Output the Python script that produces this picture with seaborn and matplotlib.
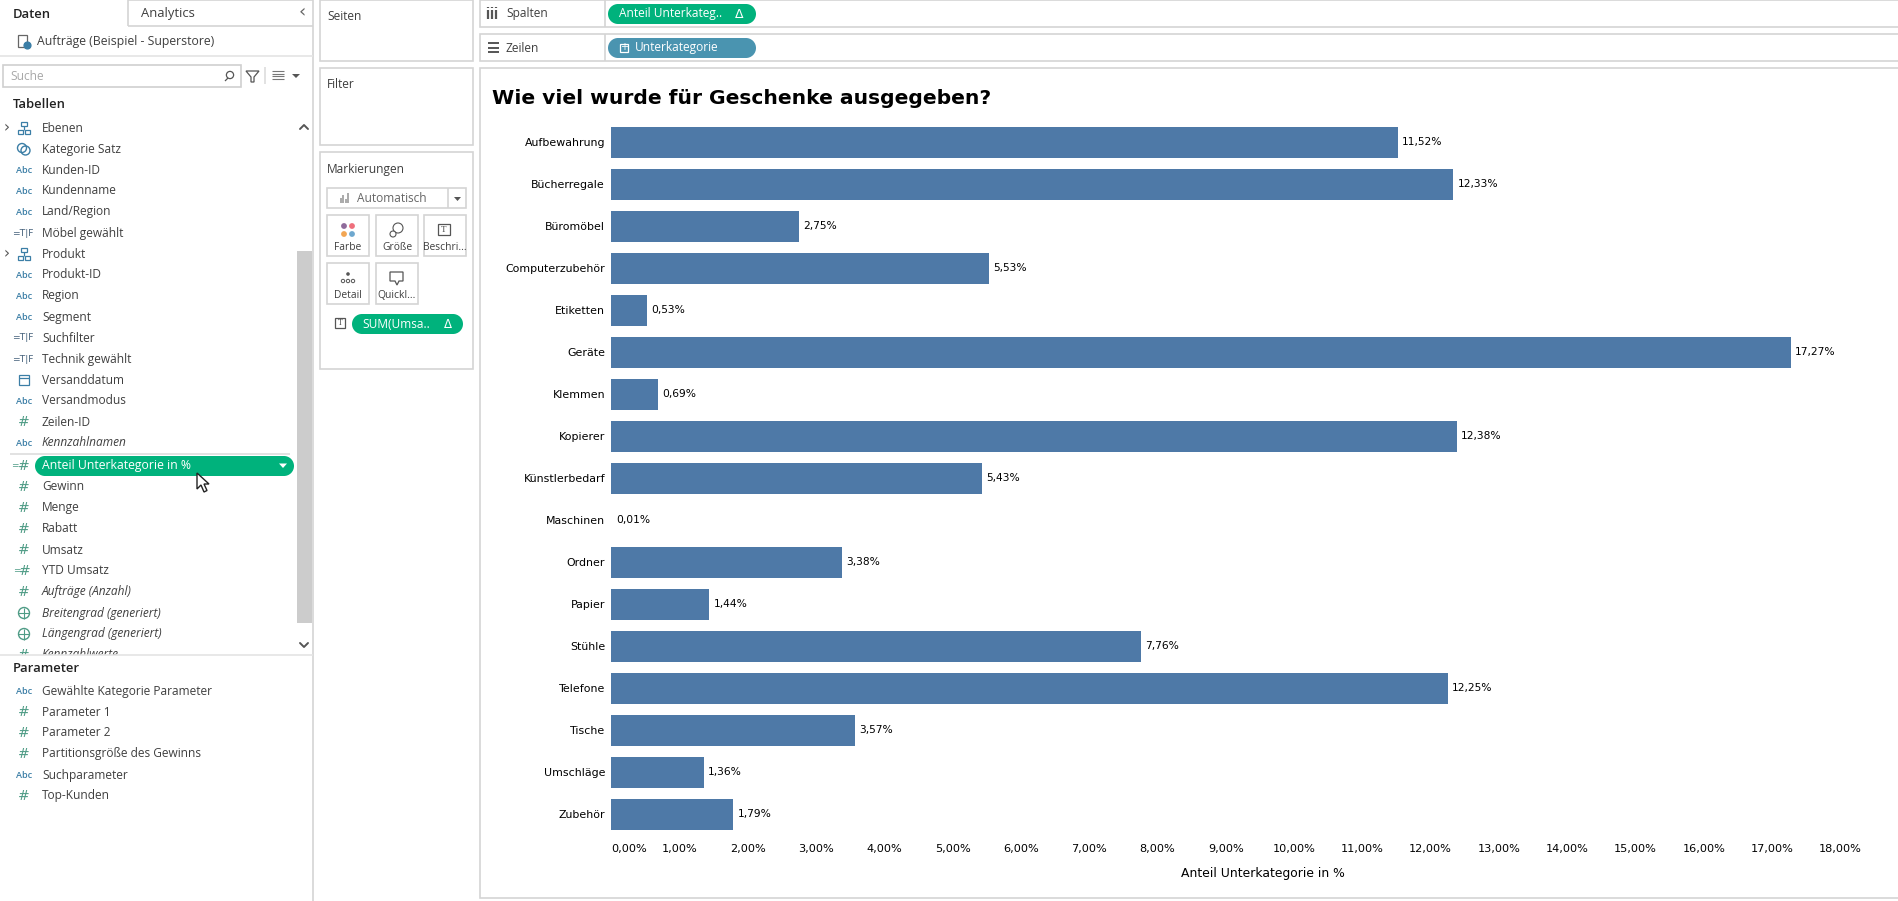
import pandas as pd
import matplotlib.pyplot as plt
import seaborn as sns
from matplotlib.patches import Rectangle, Circle, Polygon

unterkategorien = ['Aufbewahrung', 'Bücherregale', 'Büromöbel', 'Computerzubehör', 'Etiketten', 'Geräte',
                   'Klemmen', 'Kopierer', 'Künstlerbedarf', 'Maschinen', 'Ordner', 'Papier', 'Stühle',
                   'Telefone', 'Tische', 'Umschläge', 'Zubehör']
anteil = [11.52, 12.33, 2.75, 5.53, 0.53, 17.27, 0.69, 12.38, 5.43, 0.01, 3.38, 1.44, 7.76, 12.25, 3.57, 1.36, 1.79]
x_ticks = list(range(0, 19))

felder_oben = ['Ebenen', 'Kategorie Satz', 'Kunden-ID', 'Kundenname', 'Land/Region', 'Möbel gewählt', 'Produkt',
               'Produkt-ID', 'Region', 'Segment', 'Suchfilter', 'Technik gewählt', 'Versanddatum', 'Versandmodus',
               'Zeilen-ID', 'Kennzahlnamen']
icons_oben = ['tree', 'set', 'abc', 'abc', 'abc', 'tf', 'tree', 'abc', 'abc', 'abc', 'tf', 'tf', 'cal', 'abc',
              'num', 'abc']
felder_unten = ['Gewinn', 'Menge', 'Rabatt', 'Umsatz', 'YTD Umsatz', 'Aufträge (Anzahl)', 'Breitengrad (generiert)',
                'Längengrad (generiert)', 'Kennzahlwerte']
icons_unten = ['num', 'num', 'num', 'num', 'calc', 'num', 'geo', 'geo', 'num']
kursiv = ['Kennzahlnamen', 'Aufträge (Anzahl)', 'Breitengrad (generiert)', 'Längengrad (generiert)', 'Kennzahlwerte']
parameter = ['Gewählte Kategorie Parameter', 'Parameter 1', 'Parameter 2', 'Partitionsgröße des Gewinns',
             'Suchparameter', 'Top-Kunden']
icons_parameter = ['abc', 'num', 'num', 'num', 'abc', 'num']

BREITE, HOEHE = 1899, 901
UI_FONT = 'Open Sans'
TEXT = '#3f3f3f'
LINIE = '#d4d4d4'
GRUEN = '#00b27c'
BLAU = '#4a94b0'

sns.set_theme(style='white')
plt.rcParams['font.family'] = ['DejaVu Sans']

fig = plt.figure(figsize=(BREITE / 100, HOEHE / 100), dpi=100, facecolor='white')

# ebene fuer die tableau oberflaeche, koordinaten in pixel
ui = fig.add_axes([0, 0, 1, 1], zorder=0)
ui.set_xlim(0, BREITE)
ui.set_ylim(HOEHE, 0)
ui.axis('off')


def txt(x, y, s, size=8.6, color=TEXT, **kw):
    kw.setdefault('family', UI_FONT)
    return ui.text(x, y, s, fontsize=size, color=color, va='center', ha=kw.pop('ha', 'left'), **kw)


def box(x0, y0, x1, y1, fc='white', ec=LINIE, lw=1.2, z=1):
    ui.add_patch(Rectangle((x0, y0), x1 - x0, y1 - y0, fc=fc, ec=ec, lw=lw, zorder=z))


def linie(x0, y0, x1, y1, color=LINIE, lw=1.2, z=2):
    ui.plot([x0, x1], [y0, y1], color=color, lw=lw, zorder=z, solid_capstyle='butt')


def pille(x0, y0, x1, y1, color):
    r = (y1 - y0) / 2
    ui.add_patch(Rectangle((x0 + r, y0), x1 - x0 - 2 * r, y1 - y0, fc=color, ec='none', zorder=3))
    ui.add_patch(Circle((x0 + r, y0 + r), r, fc=color, ec='none', zorder=3))
    ui.add_patch(Circle((x1 - r, y0 + r), r, fc=color, ec='none', zorder=3))


def winkel(x, y, richtung, color='#555555'):
    ui.plot([x - 4, x, x + 4], [y - 2 * richtung, y + 2 * richtung, y - 2 * richtung], color=color, lw=1.4, zorder=6)


def icon(art, x, y):
    gruen = '#4f9c86'
    blau = '#3b7ea6'
    if art == 'abc':
        txt(x, y + 0.5, 'Abc', size=6.6, color=blau, ha='center', fontweight='semibold', zorder=6)
    elif art == 'num':
        txt(x, y, '#', size=10, color=gruen, ha='center', family='DejaVu Sans', zorder=6)
    elif art == 'calc':
        txt(x + 1, y, '#', size=10, color=gruen, ha='center', family='DejaVu Sans')
        txt(x - 7, y, '=', size=6.5, color=gruen, ha='center', family='DejaVu Sans')
    elif art == 'tf':
        txt(x - 1, y, '=T|F', size=6.6, color='#44607a', ha='center', family='DejaVu Sans')
    elif art == 'tree':
        ui.add_patch(Rectangle((x - 3, y - 6), 6, 4, fc='none', ec=blau, lw=0.9, zorder=3))
        ui.add_patch(Rectangle((x - 6, y + 2), 5, 4, fc='none', ec=blau, lw=0.9, zorder=3))
        ui.add_patch(Rectangle((x + 1, y + 2), 5, 4, fc='none', ec=blau, lw=0.9, zorder=3))
        linie(x, y - 2, x, y + 2, color=blau, lw=0.9, z=3)
    elif art == 'set':
        ui.add_patch(Circle((x - 2, y - 1), 4.5, fc='none', ec=blau, lw=1, zorder=3))
        ui.add_patch(Circle((x + 1.5, y + 1.5), 4.5, fc='none', ec=blau, lw=1, zorder=3))
    elif art == 'cal':
        ui.add_patch(Rectangle((x - 5, y - 5), 10, 10, fc='none', ec=blau, lw=0.9, zorder=3))
        linie(x - 5, y - 2, x + 5, y - 2, color=blau, lw=0.9, z=3)
    elif art == 'geo':
        ui.add_patch(Circle((x, y), 5.5, fc='none', ec=gruen, lw=1, zorder=3))
        linie(x - 5.5, y, x + 5.5, y, color=gruen, lw=0.8, z=3)
        linie(x, y - 5.5, x, y + 5.5, color=gruen, lw=0.8, z=3)


# linke seitenleiste
linie(313, 0, 313, HOEHE)
linie(128, 0, 128, 26)
linie(128, 26, 313, 26)
linie(128, 0, 313, 0)
txt(13, 14, 'Daten', size=9.4, color='#222222', fontweight='semibold')
txt(141, 14, 'Analytics', size=9.4)
txt(302, 12, '‹', size=13, color='#666666', ha='center', family='DejaVu Sans')
ui.add_patch(Rectangle((18, 35), 9, 12, fc='none', ec='#666666', lw=0.9, zorder=3))
ui.add_patch(Circle((27.5, 45.5), 3.4, fc='#3b7ea6', ec='#3b7ea6', zorder=4))
txt(37, 41, 'Aufträge (Beispiel - Superstore)', size=8.8)
linie(0, 56, 313, 56, color='#e4e4e4')
box(3, 65, 241, 87, ec='#cfcfcf')
txt(10, 76, 'Suche', color='#a8a8a8')
ui.add_patch(Circle((230, 75), 3.6, fc='none', ec='#555555', lw=0.9, zorder=3))
linie(228, 78, 225, 81, color='#555555', lw=0.9)
ui.add_patch(Polygon([(246, 71), (259, 71), (254, 77), (254, 82), (251, 82), (251, 77)], closed=True, fc='none',
                     ec='#555555', lw=0.9, zorder=3))
linie(265, 67, 265, 84, color='#dddddd')
for i in range(4):
    linie(272, 71 + i * 2.6, 284, 71 + i * 2.6, color='#777777', lw=0.8)
ui.add_patch(Polygon([(292, 74), (300, 74), (296, 78)], closed=True, fc='#555555', ec='none', zorder=3))
txt(13, 105, 'Tabellen', size=9.4, color='#222222', fontweight='semibold')

for i, (name, art) in enumerate(zip(felder_oben, icons_oben)):
    y = 128 + 21 * i
    icon(art, 24, y)
    txt(42, y, name, style='italic' if name in kursiv else 'normal')
    if art == 'tree':
        txt(7, y, '›', size=11, color='#555555', ha='center', family='DejaVu Sans')

linie(10, 454, 290, 454, color='#dddddd')
txt(15, 466, '=', size=6.5, color='#4f9c86', ha='center', family='DejaVu Sans')
txt(24, 466, '#', size=10, color='#4f9c86', ha='center', family='DejaVu Sans')
pille(35, 456, 294, 476, GRUEN)
txt(42, 466, 'Anteil Unterkategorie in %', size=8.8, color='white', zorder=5, fontweight='medium')
ui.add_patch(Polygon([(279, 463.5), (287, 463.5), (283, 468)], closed=True, fc='white', ec='none', zorder=5))

for i, (name, art) in enumerate(zip(felder_unten, icons_unten)):
    y = 487 + 21 * i
    icon(art, 24, y)
    txt(42, y, name, style='italic' if name in kursiv else 'normal')

# abgeschnittene zeile unten und parameter bereich
ui.add_patch(Rectangle((0, 655), 312, 10, fc='white', ec='none', zorder=7))
linie(0, 655, 313, 655, color='#e4e4e4', z=8)
ui.add_patch(Rectangle((297, 251), 15, 372, fc='#cccccc', ec='none', zorder=3))
winkel(304, 127, -1)
winkel(304, 645, 1)
txt(13, 668, 'Parameter', size=9.4, color='#222222', fontweight='semibold', zorder=8)
for i, (name, art) in enumerate(zip(parameter, icons_parameter)):
    y = 691 + 21 * i
    icon(art, 24, y)
    txt(42, y, name)

# mauszeiger
ui.add_patch(Polygon([(197, 473), (197, 489), (201, 485), (204, 492), (207, 490.5), (204, 484), (209, 484)],
                     closed=True, fc='white', ec='#222222', lw=1, zorder=9))

# mittlere spalte
box(320, 0, 473, 61)
box(320, 68, 473, 145)
box(320, 152, 473, 369)
txt(327, 16, 'Seiten')
txt(327, 84, 'Filter')
txt(327, 169, 'Markierungen')
box(327, 188, 466, 208)
linie(448, 188, 448, 208)
for i, h in enumerate([5, 8, 4, 10]):
    linie(341 + i * 2.3, 203, 341 + i * 2.3, 203 - h, color='#aaaaaa', lw=1.4)
txt(357, 199, 'Automatisch', color='#666666')
ui.add_patch(Polygon([(454, 197), (461, 197), (457.5, 201)], closed=True, fc='#555555', ec='none', zorder=3))

knoepfe = [(327, 215, 'Farbe'), (376, 215, 'Größe'), (424, 215, 'Beschri...'), (327, 263, 'Detail'), (376, 263, 'Quickl...')]
for x0, y0, label in knoepfe:
    box(x0, y0, x0 + 42, y0 + 41)
    txt(x0 + 21, y0 + 33, label, size=7.4, ha='center')
ui.add_patch(Circle((344, 226), 2.9, fc='#8f6b9b', ec='none', zorder=3))
ui.add_patch(Circle((352, 226), 2.9, fc='#ef6f7c', ec='none', zorder=3))
ui.add_patch(Circle((344, 234), 2.9, fc='#f2a654', ec='none', zorder=3))
ui.add_patch(Circle((352, 234), 2.9, fc='#6ea8cf', ec='none', zorder=3))
ui.add_patch(Circle((398, 228), 5, fc='none', ec='#555555', lw=0.8, zorder=3))
ui.add_patch(Circle((393, 234), 3, fc='white', ec='#555555', lw=0.8, zorder=4))
ui.add_patch(Rectangle((438, 224), 12, 11, fc='none', ec='#555555', lw=0.9, zorder=3))
txt(444, 229.5, 'T', size=6.5, color='#444444', ha='center', family='Liberation Serif')
ui.add_patch(Circle((348, 274), 1.8, fc='#555555', ec='none', zorder=3))
for dx in (-5, 0, 5):
    ui.add_patch(Circle((348 + dx, 281), 1.7, fc='none', ec='#555555', lw=0.7, zorder=3))
ui.add_patch(Polygon([(390, 272), (403, 272), (403, 281), (399, 281), (397, 285), (395, 281), (390, 281)],
                     closed=True, fc='none', ec='#555555', lw=0.9, zorder=3))
ui.add_patch(Rectangle((335, 318), 10, 10, fc='none', ec='#555555', lw=0.9, zorder=3))
txt(340, 323, 'T', size=5.8, color='#444444', ha='center', family='Liberation Serif')
pille(352, 314, 463, 334, GRUEN)
txt(362, 324, 'SUM(Umsa..', color='white', zorder=5)
txt(448, 324, 'Δ', size=8.5, color='white', zorder=5, ha='center', family='DejaVu Sans')

# zeilen und spalten
box(480, 0, 1905, 27)
box(480, 34, 1905, 61)
linie(605, 0, 605, 27)
linie(605, 34, 605, 61)
for dx in (0, 4, 8):
    linie(488 + dx, 10, 488 + dx, 19, color='#555555', lw=1.6)
    linie(488 + dx, 6.5, 488 + dx, 8, color='#555555', lw=1.6)
txt(506, 14, 'Spalten')
for dy in (0, 4.5, 9):
    linie(488, 43 + dy, 499, 43 + dy, color='#555555', lw=1.4)
txt(506, 48, 'Zeilen')
pille(608, 4, 756, 24, GRUEN)
txt(619, 14, 'Anteil Unterkateg..', color='white', zorder=5)
txt(739, 14, 'Δ', size=9, color='white', zorder=5, ha='center', family='DejaVu Sans')
pille(608, 38, 756, 58, BLAU)
ui.add_patch(Rectangle((620.5, 43.5), 8, 8, fc='none', ec='white', lw=0.9, zorder=5))
txt(624.5, 47.5, '+', size=7, color='white', zorder=5, ha='center', family='DejaVu Sans')
txt(635, 48, 'Unterkategorie', color='white', zorder=5)

# rahmen der ansicht
box(480, 68, 1905, 898)
txt(492, 98.5, 'Wie viel wurde für Geschenke ausgegeben?', size=14.6, color='black', fontweight='bold',
    family='DejaVu Sans')

# eigentliches diagramm, x=0 liegt bei pixel 611, 18% bei pixel 1840.4
df = pd.DataFrame({'Unterkategorie': unterkategorien, 'Anteil': anteil})
links, rechts, oben, unten = 611, 1870, 121.4, 835.4
px_pro_prozent = (1840.4 - links) / 18
ax = fig.add_axes([links / BREITE, 1 - unten / HOEHE, (rechts - links) / BREITE, (unten - oben) / HOEHE], zorder=2)
ax.patch.set_alpha(0)
sns.barplot(data=df, x='Anteil', y='Unterkategorie', orient='h', color='#4e79a7', saturation=1, width=0.731,
            linewidth=0, ax=ax)
ax.set_xlim(0, (rechts - links) / px_pro_prozent)
ax.set_ylim(len(unterkategorien) - 0.5, -0.5)
sns.despine(ax=ax, left=True, bottom=True, top=True, right=True)

# balken unter einem pixel sieht man im original nicht
for balken, wert in zip(ax.patches, anteil):
    if wert * px_pro_prozent < 1:
        balken.set_visible(False)

for i, wert in enumerate(anteil):
    ax.annotate(f'{wert:.2f}%'.replace('.', ','), (wert, i), xytext=(3.2, 0), textcoords='offset points',
                va='center', ha='left', fontsize=7.7, color='black')

ax.set_yticks(range(len(unterkategorien)))
ax.set_yticklabels(unterkategorien, fontsize=7.9, color='black')
ax.set_xticks(x_ticks)
ax.set_xticklabels([f'{t:.2f}%'.replace('.', ',') for t in x_ticks], fontsize=8.1, color='black')
ax.get_xticklabels()[0].set_ha('left')
ax.tick_params(axis='y', length=0, pad=4.3)
ax.tick_params(axis='x', length=0, pad=6.1)
ax.set_ylabel('')
ax.set_xlabel('Anteil Unterkategorie in %', fontsize=8.9, color='black')
ax.xaxis.set_label_coords((1263 - links) / (rechts - links), -(874 - unten) / (unten - oben), transform=ax.transAxes)
ax.xaxis.label.set_va('center')

fig.savefig('out.png', dpi=100)
